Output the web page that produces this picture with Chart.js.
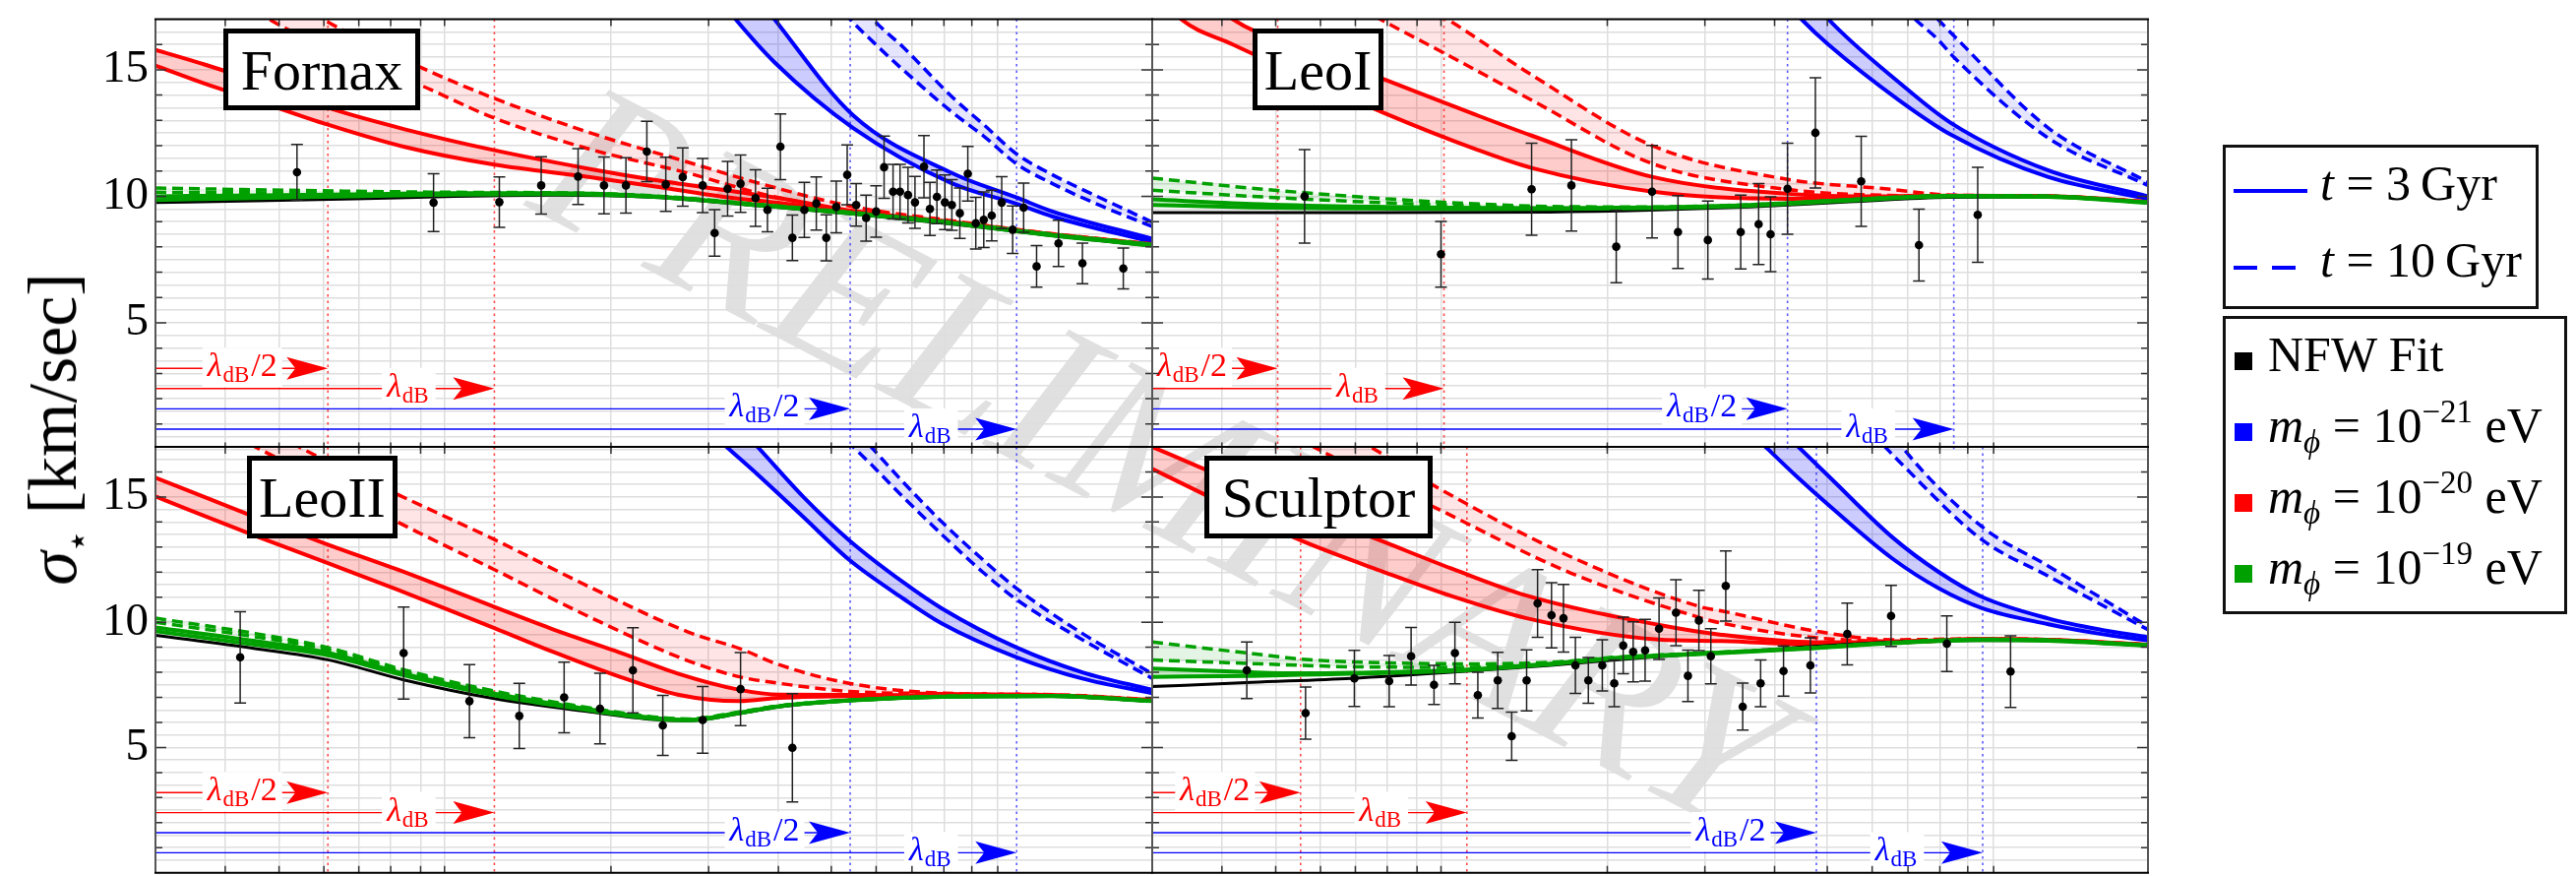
<!DOCTYPE html>
<html>
<head>
<meta charset="utf-8">
<script src="https://cdn.jsdelivr.net/npm/chart.js@4.4.1/dist/chart.umd.min.js"></script>
<style>
  html, body { margin: 0; padding: 0; background: #fff; }
  body { width: 2618px; height: 890px; position: relative; overflow: hidden;
         font-family: 'Liberation Serif', 'Times New Roman', Tinos, 'Noto Serif', 'DejaVu Serif', FreeSerif, serif; color: #000; }
  canvas { position: absolute; }
  #wm { z-index: 0; }
  .panel { z-index: 1; }
  .title { position: absolute; z-index: 2; box-sizing: border-box; border: 5px solid #000; background: #fff;
           display: flex; align-items: center; justify-content: center; font-size: 58px; line-height: 1; padding-top: 2px; }
  .lgbox { position: absolute; z-index: 2; box-sizing: border-box; border: 3px solid #111; background: #fff; }
  .lgtxt { position: absolute; z-index: 3; font-size: 50px; line-height: 50px; white-space: nowrap; }
  .lgtxt sub { font-size: 0.66em; line-height: 0; vertical-align: -0.32em; }
  .lgtxt sup { font-size: 0.66em; line-height: 0; vertical-align: 0.62em; }
  .sw { position: absolute; z-index: 3; }
  #ytitle { position: absolute; z-index: 2; left: 54px; top: 436px; font-size: 70px; line-height: 1; white-space: nowrap;
            transform: translate(-50%, -50%) rotate(-90deg); }
  #ytitle sub { font-size: 0.62em; line-height: 0; vertical-align: -0.3em; }
</style>
</head>
<body>
<canvas id="wm" width="2618" height="890" style="left:0;top:0"></canvas>

<div class="title" style="left:227px;top:29px;width:200px;height:83px">Fornax</div>
<div class="title" style="left:1273px;top:29px;width:133px;height:83px">LeoI</div>
<div class="title" style="left:251px;top:463px;width:153px;height:84px">LeoII</div>
<div class="title" style="left:1224px;top:463px;width:232px;height:84px">Sculptor</div>

<div id="ytitle"><i>σ</i><sub>⋆</sub>&nbsp;[km/sec]</div>

<div class="lgbox" style="left:2259px;top:147px;width:321px;height:167px"></div>
<div class="sw" style="left:2270px;top:192px;width:75px;height:4px;background:#0000ff"></div>
<div class="lgtxt" style="left:2358px;top:161px"><i>t</i> = 3&#8201;Gyr</div>
<div class="sw" style="left:2270px;top:270px;width:24px;height:4px;background:#0000ff"></div>
<div class="sw" style="left:2309px;top:270px;width:24px;height:4px;background:#0000ff"></div>
<div class="lgtxt" style="left:2358px;top:239px"><i>t</i> = 10&#8201;Gyr</div>

<div class="lgbox" style="left:2259px;top:321px;width:350px;height:303px"></div>
<div class="sw" style="left:2271px;top:358px;width:18px;height:18px;background:#000"></div>
<div class="lgtxt" style="left:2305px;top:335px">NFW Fit</div>
<div class="sw" style="left:2271px;top:430px;width:18px;height:18px;background:#0000ff"></div>
<div class="lgtxt" style="left:2305px;top:407px"><i>m</i><sub><i>ϕ</i></sub> = 10<sup>−21</sup> eV</div>
<div class="sw" style="left:2271px;top:502px;width:18px;height:18px;background:#ff0000"></div>
<div class="lgtxt" style="left:2305px;top:479px"><i>m</i><sub><i>ϕ</i></sub> = 10<sup>−20</sup> eV</div>
<div class="sw" style="left:2271px;top:574px;width:18px;height:18px;background:#00a000"></div>
<div class="lgtxt" style="left:2305px;top:551px"><i>m</i><sub><i>ϕ</i></sub> = 10<sup>−19</sup> eV</div>

<script>
// ---------------- shared axis data ----------------
// radial axis (arbitrary log-like units 0..10); positions of the radial grid lines / ticks
const xGridTicks = [0.70, 1.24, 1.69, 2.04, 2.36, 2.66, 2.90, 4.57, 5.55, 6.25, 6.78, 7.23, 7.59, 7.91, 8.19, 8.45];
const yLabelValues = [5, 10, 15];
// heights (km/sec units) of the four de Broglie arrows: red λ/2, red λ, blue λ/2, blue λ
const arrowLevels = [3.2, 2.4, 1.6, 0.8];

// ---------------- Fornax ----------------
const fxLambdaRed = [1.73, 3.40];
const fxLambdaBlue = [6.97, 8.64];
const fxBlackU = [0, 1, 2, 3, 4, 5, 6, 7, 8, 9, 10];
const fxBlack = [9.75, 9.82, 9.9, 10.0, 10.05, 9.96, 9.64, 9.3, 8.9, 8.44, 8.04];
const fxGreenU = [0, 1, 2, 3, 4, 5, 6, 7, 8, 9, 10];
const fxGreen3Hi = [10.0, 10.04, 10.08, 10.12, 10.12, 10.0, 9.68, 9.34, 8.95, 8.47, 8.08];
const fxGreen3Lo = [9.85, 9.93, 10.0, 10.07, 10.09, 9.98, 9.66, 9.32, 8.93, 8.45, 8.05];
const fxGreen10Hi = [10.33, 10.26, 10.2, 10.16, 10.14, 10.02, 9.7, 9.36, 8.97, 8.5, 8.1];
const fxGreen10Lo = [10.16, 10.14, 10.12, 10.12, 10.12, 10.0, 9.68, 9.34, 8.95, 8.48, 8.08];
const fxRed3U = [0, 0.5, 1, 1.73, 2.5, 3.4, 4.36, 5, 5.7, 6.3, 7, 8, 9, 10];
const fxRed3Hi = [15.79, 15.2, 14.55, 13.5, 12.65, 11.82, 11.08, 10.65, 10.25, 9.9, 9.42, 8.98, 8.5, 8.1];
const fxRed3Lo = [15.17, 14.45, 13.8, 12.83, 11.95, 11.25, 10.76, 10.4, 9.98, 9.72, 9.36, 8.96, 8.48, 8.08];
const fxRed10U = [0.6, 1.14, 1.68, 2.66, 3.4, 4.36, 5.35, 6.07, 7, 8, 9, 10];
const fxRed10Hi = [19.8, 18.4, 17.0, 15.1, 13.87, 12.51, 11.34, 10.5, 9.59, 9.03, 8.52, 8.12];
const fxRed10Lo = [18.5, 17.0, 15.95, 14.39, 13.09, 11.86, 10.91, 10.11, 9.4, 8.98, 8.5, 8.1];
const fxBlue3U = [5.5, 5.82, 6.21, 7, 8, 8.64, 9, 10];
const fxBlue3Hi = [20.8, 19.0, 17.0, 13.2, 10.9, 9.95, 9.4, 8.32];
const fxBlue3Lo = [18.6, 17.0, 15.3, 12.7, 10.5, 9.7, 9.2, 8.19];
const fxBlue10U = [6.6, 6.97, 7.2, 7.5, 8, 8.31, 8.64, 9, 9.5, 10];
const fxBlue10Hi = [20.0, 18.2, 17.0, 15.9, 13.9, 12.83, 11.67, 10.85, 9.9, 8.98];
const fxBlue10Lo = [18.8, 17.0, 16.1, 15.0, 13.3, 12.38, 11.28, 10.5, 9.6, 8.81];
const fxPtsU = [1.42, 2.79, 3.45, 3.87, 4.24, 4.50, 4.72, 4.93, 5.12, 5.29, 5.49, 5.61, 5.74, 5.87, 6.02, 6.14, 6.27, 6.39, 6.51, 6.63, 6.73, 6.83, 6.94, 7.03, 7.13, 7.23, 7.31, 7.40, 7.47, 7.55, 7.62, 7.71, 7.77, 7.84, 7.92, 7.99, 8.07, 8.15, 8.23, 8.31, 8.39, 8.49, 8.60, 8.71, 8.84, 9.06, 9.30, 9.71];
const fxPtsV = [10.95, 9.75, 9.77, 10.43, 10.78, 10.43, 10.43, 11.77, 10.47, 10.76, 10.43, 8.55, 10.30, 10.50, 9.93, 9.46, 11.96, 8.36, 9.46, 9.72, 8.36, 9.58, 10.85, 9.66, 9.14, 9.40, 11.15, 10.18, 10.18, 10.05, 9.76, 11.17, 9.50, 9.98, 9.76, 9.66, 9.33, 10.89, 8.94, 9.07, 9.24, 9.75, 8.68, 9.55, 7.23, 8.14, 7.35, 7.15];
const fxPtsErr = [1.1, 1.14, 1.0, 1.13, 1.1, 1.12, 1.09, 1.19, 1.07, 1.15, 1.07, 0.92, 1.08, 1.13, 1.12, 0.86, 1.30, 0.9, 1.09, 1.05, 0.91, 1.02, 1.18, 0.84, 0.91, 1.02, 1.23, 1.08, 1.08, 1.1, 1.03, 1.23, 1.05, 1.06, 1.08, 1.0, 1.0, 1.08, 1.02, 1.1, 1.0, 1.03, 0.94, 0.97, 0.82, 0.91, 0.8, 0.81];

// ---------------- LeoI ----------------
const l1LambdaRed = [1.26, 2.93];
const l1LambdaBlue = [6.38, 8.05];
const l1BlackU = [0, 2, 4, 5, 6, 7, 8, 9, 10];
const l1Black = [9.36, 9.36, 9.38, 9.45, 9.58, 9.78, 9.96, 9.98, 9.74];
const l1GreenU = [0, 1, 2, 3, 4, 5, 6, 7, 8, 9, 10];
const l1Green3Hi = [9.88, 9.7, 9.6, 9.55, 9.53, 9.56, 9.66, 9.86, 10.02, 10.0, 9.76];
const l1Green3Lo = [9.66, 9.56, 9.52, 9.5, 9.5, 9.53, 9.63, 9.83, 10.0, 9.98, 9.74];
const l1Green10Hi = [10.72, 10.32, 10.0, 9.75, 9.6, 9.58, 9.67, 9.87, 10.03, 10.01, 9.77];
const l1Green10Lo = [10.24, 10.0, 9.8, 9.65, 9.56, 9.56, 9.65, 9.85, 10.02, 10.0, 9.76];
const l1Red3U = [0, 0.29, 0.81, 1.5, 2.33, 3.25, 3.81, 5.03, 6.38, 7.36, 8, 9, 10];
const l1Red3Hi = [19.8, 18.9, 17.0, 15.85, 14.62, 13.22, 12.4, 10.76, 10.1, 10.0, 10.03, 10.01, 9.78];
const l1Red3Lo = [18.3, 17.0, 16.0, 14.75, 13.29, 11.86, 11.12, 10.18, 9.9, 9.98, 10.02, 10.0, 9.77];
const l1Red10U = [1.8, 2.29, 2.96, 3.81, 5.03, 6.38, 7.36, 8.02, 9, 10];
const l1Red10Hi = [19.2, 18.4, 17.0, 14.8, 11.99, 10.67, 10.3, 10.05, 10.01, 9.79];
const l1Red10Lo = [18.1, 17.0, 15.6, 13.8, 11.28, 10.27, 10.04, 10.02, 10.0, 9.78];
const l1Blue3U = [6.2, 6.52, 6.79, 7.5, 8.02, 9.0, 10];
const l1Blue3Hi = [19.6, 18.3, 17.0, 14.5, 12.9, 11.02, 10.0];
const l1Blue3Lo = [18.4, 17.0, 16.0, 13.8, 12.44, 10.76, 9.9];
const l1Blue10U = [7.3, 7.66, 7.89, 8.05, 9.0, 10];
const l1Blue10Hi = [19.4, 18.0, 17.0, 16.35, 12.7, 10.56];
const l1Blue10Lo = [18.4, 17.0, 16.2, 15.5, 12.3, 10.43];
const l1PtsU = [1.53, 2.90, 3.81, 4.21, 4.66, 5.02, 5.28, 5.58, 5.91, 6.09, 6.21, 6.38, 6.66, 7.12, 7.70, 8.29];
const l1PtsV = [10.0, 7.71, 10.28, 10.43, 8.01, 10.18, 8.59, 8.27, 8.59, 8.9, 8.5, 10.30, 12.51, 10.59, 8.07, 9.27];
const l1PtsErr = [1.85, 1.30, 1.82, 1.80, 1.43, 1.83, 1.44, 1.54, 1.46, 1.6, 1.48, 1.80, 2.18, 1.78, 1.42, 1.88];

// ---------------- LeoII ----------------
const l2LambdaRed = [1.73, 3.40];
const l2LambdaBlue = [6.97, 8.64];
const l2BlackU = [0, 1, 1.73, 2.49, 3.4, 4.36, 5.0, 5.35, 5.86, 6.26, 7, 8, 9, 10];
const l2Black = [9.48, 8.95, 8.5, 7.7, 6.95, 6.42, 6.12, 6.07, 6.35, 6.62, 6.87, 7.02, 7.04, 6.84];
const l2GreenU = [0, 1, 1.73, 2.49, 3.4, 4.36, 5.0, 5.35, 5.86, 6.26, 7, 8, 9, 10];
const l2Green3Hi = [9.79, 9.25, 8.78, 7.95, 7.15, 6.52, 6.18, 6.11, 6.39, 6.65, 6.89, 7.04, 7.06, 6.86];
const l2Green3Lo = [9.64, 9.1, 8.68, 7.88, 7.08, 6.48, 6.15, 6.09, 6.37, 6.64, 6.88, 7.03, 7.05, 6.85];
const l2Green10Hi = [10.16, 9.55, 8.99, 8.1, 7.25, 6.58, 6.22, 6.14, 6.42, 6.67, 6.9, 7.05, 7.07, 6.87];
const l2Green10Lo = [10.0, 9.42, 8.9, 8.03, 7.2, 6.55, 6.2, 6.12, 6.4, 6.66, 6.89, 7.04, 7.06, 6.86];
const l2Red3U = [0, 1, 1.73, 2.43, 3.4, 4.0, 4.61, 5.24, 5.86, 6.26, 7, 8, 9, 10];
const l2Red3Hi = [15.77, 14.2, 13.1, 12.1, 10.61, 9.7, 8.86, 7.95, 7.3, 7.11, 7.1, 7.08, 7.08, 6.88];
const l2Red3Lo = [15.02, 13.45, 12.36, 11.3, 9.77, 8.8, 7.89, 7.11, 6.85, 6.98, 7.05, 7.06, 7.07, 6.87];
const l2Red10U = [0.5, 1.0, 1.44, 2.43, 3.4, 4.36, 5.35, 5.86, 6.26, 6.96, 7.89, 9, 10];
const l2Red10Hi = [19.2, 18.0, 17.0, 15.1, 13.3, 11.4, 9.6, 8.95, 8.3, 7.56, 7.17, 7.11, 6.91];
const l2Red10Lo = [18.0, 17.0, 16.1, 14.0, 12.1, 10.2, 8.45, 7.82, 7.56, 7.24, 7.15, 7.1, 6.9];
const l2Blue3U = [5.4, 5.73, 6.04, 6.5, 6.96, 7.5, 7.89, 8.64, 9.3, 10];
const l2Blue3Hi = [19.8, 18.3, 17.0, 15.0, 13.27, 11.6, 10.55, 8.99, 8.0, 7.3];
const l2Blue3Lo = [18.2, 17.0, 15.9, 14.2, 12.49, 10.95, 9.95, 8.6, 7.75, 7.17];
const l2Blue10U = [6.7, 7.0, 7.18, 7.5, 7.89, 8.3, 8.64, 9.3, 10];
const l2Blue10Hi = [19.0, 17.8, 17.0, 15.6, 14.0, 12.5, 11.35, 9.55, 7.95];
const l2Blue10Lo = [18.2, 17.0, 16.3, 15.0, 13.5, 12.0, 10.9, 9.3, 7.76];
const l2PtsU = [0.85, 2.49, 3.15, 3.65, 4.10, 4.46, 4.79, 5.09, 5.49, 5.87, 6.39];
const l2PtsV = [8.6, 8.77, 6.85, 6.26, 7.0, 6.55, 8.08, 5.88, 6.1, 7.33, 4.99];
const l2PtsErr = [1.82, 1.84, 1.46, 1.30, 1.41, 1.41, 1.70, 1.2, 1.33, 1.46, 2.16];

// ---------------- Sculptor ----------------
const scLambdaRed = [1.49, 3.16];
const scLambdaBlue = [6.67, 8.34];
const scBlackU = [0, 1, 2, 3, 4, 5, 6, 7, 8, 9, 10];
const scBlack = [7.43, 7.6, 7.76, 8.0, 8.28, 8.6, 8.86, 9.12, 9.27, 9.27, 9.06];
const scGreenU = [0, 1, 1.49, 2, 3.16, 4, 4.64, 5.72, 6.67, 7.43, 8.34, 9, 10];
const scGreen3Hi = [8.15, 8.0, 7.96, 7.98, 8.11, 8.35, 8.57, 8.79, 8.99, 9.18, 9.31, 9.28, 9.08];
const scGreen3Lo = [7.82, 7.86, 7.9, 7.94, 8.08, 8.32, 8.55, 8.77, 8.97, 9.16, 9.29, 9.26, 9.06];
const scGreen10Hi = [9.21, 8.75, 8.53, 8.42, 8.34, 8.4, 8.6, 8.81, 9.0, 9.19, 9.32, 9.29, 9.09];
const scGreen10Lo = [8.49, 8.35, 8.28, 8.22, 8.2, 8.37, 8.58, 8.8, 8.99, 9.18, 9.31, 9.28, 9.08];
const scRed3U = [0, 0.5, 1.0, 1.53, 2.33, 3.0, 3.76, 5.08, 5.72, 6.67, 7.43, 8.34, 9, 10];
const scRed3Hi = [17.0, 16.15, 15.3, 14.45, 13.2, 12.15, 11.06, 9.9, 9.5, 9.2, 9.2, 9.33, 9.3, 9.1];
const scRed3Lo = [16.12, 15.15, 14.15, 13.2, 12.0, 11.05, 10.16, 9.31, 9.25, 9.1, 9.19, 9.32, 9.29, 9.09];
const scRed10U = [1.0, 1.62, 2.19, 2.88, 4.2, 5.52, 5.72, 6.67, 7.43, 8.34, 9, 10];
const scRed10Hi = [19.3, 18.2, 17.0, 15.34, 12.62, 10.6, 10.45, 9.64, 9.3, 9.34, 9.31, 9.11];
const scRed10Lo = [18.3, 17.0, 15.85, 14.5, 11.97, 10.16, 9.96, 9.38, 9.25, 9.33, 9.3, 9.1];
const scBlue3U = [5.8, 6.16, 6.49, 6.8, 7.43, 7.9, 8.34, 9.0, 9.5, 10];
const scBlue3Hi = [19.6, 18.3, 17.0, 15.8, 13.4, 12.0, 11.0, 10.15, 9.72, 9.4];
const scBlue3Lo = [18.4, 17.0, 15.75, 14.65, 12.55, 11.35, 10.55, 9.92, 9.55, 9.27];
const scBlue10U = [7.0, 7.36, 7.53, 8.34, 9.0, 10];
const scBlue10Hi = [19.3, 18.0, 17.0, 13.79, 12.24, 9.83];
const scBlue10Lo = [18.5, 17.0, 16.3, 13.27, 11.84, 9.7];
const scPtsU = [0.95, 1.54, 2.03, 2.38, 2.60, 2.83, 3.04, 3.27, 3.47, 3.61, 3.76, 3.87, 4.01, 4.13, 4.25, 4.38, 4.52, 4.64, 4.73, 4.83, 4.95, 5.09, 5.26, 5.38, 5.49, 5.61, 5.76, 5.93, 6.11, 6.34, 6.61, 6.98, 7.42, 7.98, 8.62];
const scPtsV = [8.08, 6.37, 7.76, 7.65, 8.64, 7.5, 8.77, 7.09, 7.68, 5.45, 7.68, 10.75, 10.28, 10.16, 8.28, 7.68, 8.28, 7.56, 9.07, 8.82, 8.88, 9.74, 10.38, 7.86, 10.07, 8.64, 11.45, 6.63, 7.56, 8.05, 8.28, 9.53, 10.25, 9.14, 8.03];
const scPtsErr = [1.13, 1.04, 1.12, 1.02, 1.15, 0.78, 1.23, 0.91, 1.12, 0.96, 1.22, 1.35, 1.30, 1.35, 1.12, 0.91, 1.02, 0.93, 1.13, 1.2, 1.23, 1.23, 1.32, 1.03, 1.2, 1.1, 1.4, 0.94, 0.93, 1.0, 1.1, 1.23, 1.22, 1.11, 1.43];

// ---------------- styling ----------------
const FONT = "'Liberation Serif', 'Times New Roman', Tinos, 'Noto Serif', 'DejaVu Serif', FreeSerif, serif";
const RED = '#ff0000', BLUE = '#0000ff', GREEN = '#00a000';
const GRID = '#dedede';
const FILL = {
  red3: 'rgba(255,0,0,0.20)', red10: 'rgba(255,0,0,0.10)',
  blue3: 'rgba(0,0,255,0.20)', blue10: 'rgba(0,0,255,0.10)',
  green3: 'rgba(0,160,0,0.20)', green10: 'rgba(0,160,0,0.10)'
};

Chart.defaults.font.family = FONT;
Chart.defaults.animation = false;

// watermark behind all four panels
function drawWatermark() {
  const c = document.getElementById('wm').getContext('2d');
  c.clearRect(0, 0, 2618, 890);
  c.save();
  c.translate(1175, 478);
  c.rotate(27.5 * Math.PI / 180);
  c.font = "italic 220px " + FONT;
  c.fillStyle = 'rgba(0,0,0,0.12)';
  c.textAlign = 'center';
  c.textBaseline = 'middle';
  c.fillText('PRELIMINARY', 0, 0);
  c.restore();
}

function pts(u, v) { return u.map((x, i) => ({ x: x, y: v[i] })); }

function line(u, v, color, width, dashed, fill) {
  return {
    type: 'line', data: pts(u, v), borderColor: color, borderWidth: width,
    borderDash: dashed ? [11, 6] : [], pointRadius: 0, pointHoverRadius: 0,
    cubicInterpolationMode: 'monotone', clip: 0,
    fill: fill ? '+1' : false, backgroundColor: fill || 'transparent'
  };
}

function band(u, hi, lo, color, fillColor, dashed) {
  const w = dashed ? 3.5 : 4;
  return [line(u, hi, color, w, dashed, fillColor), line(u, lo, color, w, dashed, null)];
}

function lambdaLabel(ctx, cx, cy, half, color) {
  const fBig = "italic 34px " + FONT, fUp = "34px " + FONT, fSub = "23px " + FONT;
  ctx.font = fBig; const wl = ctx.measureText('λ').width;
  ctx.font = fSub; const wd = ctx.measureText('dB').width;
  ctx.font = fUp; const ws = half ? ctx.measureText('/2').width : 0;
  const w = wl + wd + ws + 3;
  const x0 = cx - w / 2;
  ctx.fillStyle = '#fff';
  ctx.fillRect(x0 - 5, cy - 21, w + 10, 40);
  ctx.fillStyle = color;
  ctx.textAlign = 'left';
  ctx.textBaseline = 'alphabetic';
  const base = cy + 8;
  ctx.font = fBig; ctx.fillText('λ', x0, base);
  ctx.font = fSub; ctx.fillText('dB', x0 + wl + 1, base + 6);
  if (half) { ctx.font = fUp; ctx.fillText('/2', x0 + wl + wd + 3, base); }
}

const panelDecor = {
  id: 'panelDecor',
  beforeDatasetsDraw(chart, args, o) {
    const { ctx, chartArea: a, scales: { x, y } } = chart;
    ctx.save();
    ctx.beginPath(); ctx.rect(a.left, a.top, a.right - a.left, a.bottom - a.top); ctx.clip();
    const marks = [
      { v: o.red[0], c: RED, dot: 'rgba(255,40,40,0.85)', level: arrowLevels[0], half: true },
      { v: o.red[1], c: RED, dot: 'rgba(255,40,40,0.85)', level: arrowLevels[1], half: false },
      { v: o.blue[0], c: BLUE, dot: 'rgba(60,60,255,0.85)', level: arrowLevels[2], half: true },
      { v: o.blue[1], c: BLUE, dot: 'rgba(60,60,255,0.85)', level: arrowLevels[3], half: false }
    ];
    // dotted de Broglie markers
    ctx.lineWidth = 1.6;
    ctx.setLineDash([2.5, 4]);
    marks.forEach(m => {
      const px = x.getPixelForValue(m.v);
      ctx.strokeStyle = m.dot;
      ctx.beginPath(); ctx.moveTo(px, a.top); ctx.lineTo(px, a.bottom); ctx.stroke();
    });
    ctx.setLineDash([]);
    // arrows with labels
    marks.forEach(m => {
      const tip = x.getPixelForValue(m.v);
      const py = y.getPixelForValue(m.level);
      ctx.strokeStyle = m.c; ctx.lineWidth = 1.4;
      ctx.beginPath(); ctx.moveTo(a.left - 2, py); ctx.lineTo(tip - 30, py); ctx.stroke();
      ctx.fillStyle = m.c;
      ctx.beginPath();
      ctx.moveTo(tip, py); ctx.lineTo(tip - 42, py - 11.5); ctx.lineTo(tip - 33, py); ctx.lineTo(tip - 42, py + 11.5);
      ctx.closePath(); ctx.fill();
      lambdaLabel(ctx, tip - 87, py, m.half, m.c);
    });
    ctx.restore();
  },
  beforeDatasetDraw(chart, args) {
    const ds = chart.data.datasets[args.index];
    if (!ds.errors) return;
    const { ctx, chartArea: a, scales: { x, y } } = chart;
    ctx.save();
    ctx.beginPath(); ctx.rect(a.left, a.top, a.right - a.left, a.bottom - a.top); ctx.clip();
    ctx.strokeStyle = '#222'; ctx.lineWidth = 1.5;
    ds.data.forEach((p, i) => {
      const px = x.getPixelForValue(p.x);
      const y1 = y.getPixelForValue(p.y + ds.errors[i]);
      const y2 = y.getPixelForValue(p.y - ds.errors[i]);
      ctx.beginPath();
      ctx.moveTo(px, y1); ctx.lineTo(px, y2);
      ctx.moveTo(px - 6, y1); ctx.lineTo(px + 6, y1);
      ctx.moveTo(px - 6, y2); ctx.lineTo(px + 6, y2);
      ctx.stroke();
    });
    ctx.restore();
  },
  afterDatasetsDraw(chart, args, o) {
    const { ctx, chartArea: a, scales: { x, y } } = chart;
    ctx.save();
    ctx.strokeStyle = '#333'; ctx.lineWidth = 1.5;
    // inward ticks on the value axis, both sides
    for (let v = 1; v <= 16; v++) {
      const py = y.getPixelForValue(v);
      const len = (v % 5 === 0) ? 11 : 7;
      ctx.beginPath();
      ctx.moveTo(a.left, py); ctx.lineTo(a.left + len, py);
      ctx.moveTo(a.right, py); ctx.lineTo(a.right - len, py);
      ctx.stroke();
    }
    // inward ticks on the radial axis, top and bottom
    xGridTicks.forEach(v => {
      const px = x.getPixelForValue(v);
      ctx.beginPath();
      ctx.moveTo(px, a.top); ctx.lineTo(px, a.top + 7);
      ctx.moveTo(px, a.bottom); ctx.lineTo(px, a.bottom - 7);
      ctx.stroke();
    });
    // frame
    ctx.lineWidth = 2;
    ctx.strokeStyle = '#555';
    ctx.beginPath();
    ctx.moveTo(a.left, a.top); ctx.lineTo(a.left, a.bottom);
    ctx.moveTo(a.right, a.top); ctx.lineTo(a.right, a.bottom);
    ctx.stroke();
    ctx.strokeStyle = '#000';
    ctx.beginPath();
    ctx.moveTo(a.left - 1, a.top); ctx.lineTo(a.right + 1, a.top);
    if (o.bottomEdge) { ctx.moveTo(a.left - 1, a.bottom); ctx.lineTo(a.right + 1, a.bottom); }
    ctx.stroke();
    ctx.restore();
  }
};

function makePanel(p) {
  const cv = document.createElement('canvas');
  cv.className = 'panel';
  cv.width = p.w; cv.height = p.h;
  cv.style.left = p.left + 'px'; cv.style.top = p.top + 'px';
  document.body.appendChild(cv);

  const yW = p.area.l - p.left;
  const xH = p.top + p.h - p.area.b;
  const padTop = p.area.t - p.top;
  const padRight = p.left + p.w - p.area.r;

  const datasets = [
    ...band(p.blue10[0], p.blue10[1], p.blue10[2], BLUE, FILL.blue10, true),
    ...band(p.blue3[0], p.blue3[1], p.blue3[2], BLUE, FILL.blue3, false),
    ...band(p.red10[0], p.red10[1], p.red10[2], RED, FILL.red10, true),
    ...band(p.red3[0], p.red3[1], p.red3[2], RED, FILL.red3, false),
    line(p.black[0], p.black[1], '#000', 3, false, null),
    ...band(p.green3[0], p.green3[1], p.green3[2], GREEN, FILL.green3, false),
    ...band(p.green10[0], p.green10[1], p.green10[2], GREEN, FILL.green10, true),
    {
      type: 'scatter', data: pts(p.pts[0], p.pts[1]), errors: p.pts[2],
      pointRadius: 4.3, pointHoverRadius: 4.3, pointBackgroundColor: '#000', pointBorderWidth: 0,
      showLine: false, clip: 0
    }
  ];
  // earlier entries are painted first
  datasets.forEach((d, i) => { d.order = datasets.length - i; });

  return new Chart(cv, {
    type: 'line',
    data: { datasets },
    options: {
      responsive: false, devicePixelRatio: 1, animation: false,
      layout: { padding: { left: 0, top: padTop, right: padRight, bottom: 0 } },
      plugins: { legend: { display: false }, tooltip: { enabled: false },
                 panelDecor: { red: p.red, blue: p.blue, bottomEdge: p.bottomEdge } },
      events: [],
      scales: {
        x: {
          type: 'linear', min: 0, max: 10, position: 'bottom',
          border: { display: false },
          grid: { color: GRID, lineWidth: 1.5, drawTicks: false },
          ticks: { display: false },
          afterBuildTicks: s => { s.ticks = xGridTicks.map(v => ({ value: v })); },
          afterFit: s => { s.height = xH; s.paddingLeft = 0; s.paddingRight = 0; s.paddingTop = 0; s.paddingBottom = 0; }
        },
        y: {
          type: 'linear', min: 0, max: 17, position: 'left',
          border: { display: false },
          grid: { color: GRID, lineWidth: 1.5, drawTicks: false },
          ticks: {
            display: p.labels, autoSkip: false, padding: 7, color: '#000',
            font: { family: FONT, size: 47 },
            callback: v => (yLabelValues.includes(v) ? String(v) : '')
          },
          afterBuildTicks: s => {
            const t = [];
            for (let k = 0; k <= 34; k++) t.push({ value: k * 0.5 });
            s.ticks = t;
          },
          afterFit: s => { s.width = yW; s.paddingTop = 0; s.paddingBottom = 0; s.paddingLeft = 0; s.paddingRight = 0; }
        }
      }
    },
    plugins: [panelDecor]
  });
}

const TOP = { t: 19.5, b: 456.5 }, BOT = { t: 454, b: 891 };
const LEFTX = { l: 158, r: 1171 }, RIGHTX = { l: 1171, r: 2183 };

function build() {
  drawWatermark();
  makePanel({
    left: 0, top: 0, w: 1185, h: 470, area: { l: LEFTX.l, r: LEFTX.r, t: TOP.t, b: TOP.b }, labels: true, bottomEdge: false,
    red: fxLambdaRed, blue: fxLambdaBlue, black: [fxBlackU, fxBlack],
    green3: [fxGreenU, fxGreen3Hi, fxGreen3Lo], green10: [fxGreenU, fxGreen10Hi, fxGreen10Lo],
    red3: [fxRed3U, fxRed3Hi, fxRed3Lo], red10: [fxRed10U, fxRed10Hi, fxRed10Lo],
    blue3: [fxBlue3U, fxBlue3Hi, fxBlue3Lo], blue10: [fxBlue10U, fxBlue10Hi, fxBlue10Lo],
    pts: [fxPtsU, fxPtsV, fxPtsErr]
  });
  makePanel({
    left: 1160, top: 0, w: 1040, h: 470, area: { l: RIGHTX.l, r: RIGHTX.r, t: TOP.t, b: TOP.b }, labels: false, bottomEdge: false,
    red: l1LambdaRed, blue: l1LambdaBlue, black: [l1BlackU, l1Black],
    green3: [l1GreenU, l1Green3Hi, l1Green3Lo], green10: [l1GreenU, l1Green10Hi, l1Green10Lo],
    red3: [l1Red3U, l1Red3Hi, l1Red3Lo], red10: [l1Red10U, l1Red10Hi, l1Red10Lo],
    blue3: [l1Blue3U, l1Blue3Hi, l1Blue3Lo], blue10: [l1Blue10U, l1Blue10Hi, l1Blue10Lo],
    pts: [l1PtsU, l1PtsV, l1PtsErr]
  });
  makePanel({
    left: 0, top: 440, w: 1185, h: 451, area: { l: LEFTX.l, r: LEFTX.r, t: BOT.t, b: BOT.b }, labels: true, bottomEdge: true,
    red: l2LambdaRed, blue: l2LambdaBlue, black: [l2BlackU, l2Black],
    green3: [l2GreenU, l2Green3Hi, l2Green3Lo], green10: [l2GreenU, l2Green10Hi, l2Green10Lo],
    red3: [l2Red3U, l2Red3Hi, l2Red3Lo], red10: [l2Red10U, l2Red10Hi, l2Red10Lo],
    blue3: [l2Blue3U, l2Blue3Hi, l2Blue3Lo], blue10: [l2Blue10U, l2Blue10Hi, l2Blue10Lo],
    pts: [l2PtsU, l2PtsV, l2PtsErr]
  });
  makePanel({
    left: 1160, top: 440, w: 1040, h: 451, area: { l: RIGHTX.l, r: RIGHTX.r, t: BOT.t, b: BOT.b }, labels: false, bottomEdge: true,
    red: scLambdaRed, blue: scLambdaBlue, black: [scBlackU, scBlack],
    green3: [scGreenU, scGreen3Hi, scGreen3Lo], green10: [scGreenU, scGreen10Hi, scGreen10Lo],
    red3: [scRed3U, scRed3Hi, scRed3Lo], red10: [scRed10U, scRed10Hi, scRed10Lo],
    blue3: [scBlue3U, scBlue3Hi, scBlue3Lo], blue10: [scBlue10U, scBlue10Hi, scBlue10Lo],
    pts: [scPtsU, scPtsV, scPtsErr]
  });
}

// make sure the serif face is ready before painting canvas text
if (document.fonts && document.fonts.load) {
  Promise.all([
    document.fonts.load("47px 'Liberation Serif'"),
    document.fonts.load("italic 34px 'Liberation Serif'")
  ]).then(build, build);
} else {
  build();
}
</script>
</body>
</html>
